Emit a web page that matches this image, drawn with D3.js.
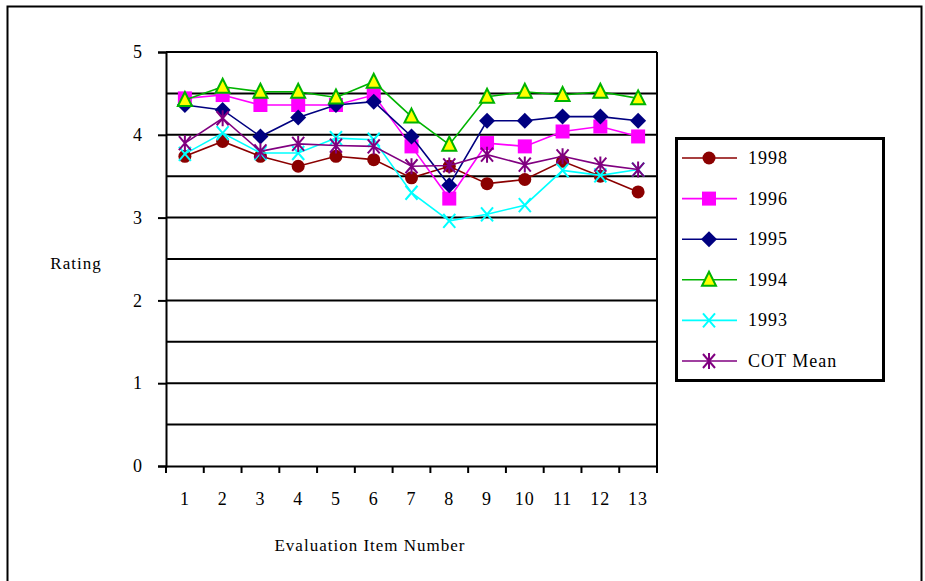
<!DOCTYPE html>
<html><head><meta charset="utf-8">
<script src="https://cdn.jsdelivr.net/npm/d3@7"></script>
<style>body{margin:0;background:#fff}svg{display:block}text{font-family:"Liberation Serif","DejaVu Serif",serif;fill:#000}</style>
</head><body><svg id="c" width="925" height="581"></svg>
<script>
const items = [1,2,3,4,5,6,7,8,9,10,11,12,13];
const yTicks = [0,1,2,3,4,5];
const seriesNames = ["1998","1996","1995","1994","1993","COT Mean"];
const v1998 = [3.74,3.92,3.74,3.62,3.74,3.70,3.48,3.62,3.41,3.46,3.68,3.50,3.31];
const v1996 = [4.44,4.48,4.36,4.36,4.36,4.48,3.86,3.23,3.90,3.86,4.04,4.10,3.98];
const v1995 = [4.36,4.30,3.98,4.21,4.36,4.40,3.98,3.39,4.17,4.17,4.22,4.22,4.17];
const v1994 = [4.42,4.58,4.52,4.52,4.45,4.64,4.22,3.88,4.46,4.52,4.48,4.52,4.44];
const v1993 = [3.77,4.02,3.78,3.78,3.96,3.94,3.30,2.96,3.04,3.15,3.57,3.51,3.58];
const vCOT  = [3.90,4.20,3.80,3.89,3.87,3.86,3.62,3.63,3.76,3.64,3.74,3.64,3.58];
const values = [v1998,v1996,v1995,v1994,v1993,vCOT];
const colors = ["#8b0000","#ff00ff","#000080","#00b400","#00ffff","#800080"];
const shapes = ["circle","square","diamond","triangle","x","star"];

const svg = d3.select("#c");
svg.append("rect").attr("x",7.5).attr("y",6.5).attr("width",914).attr("height",600)
  .attr("fill","none").attr("stroke","#000").attr("stroke-width",2);

const L=166, R=657, T=52, B=466;
const x = d3.scaleBand().domain(items).range([L,R]);
const y = d3.scaleLinear().domain([0,5]).range([B,T]);

// grid every 0.5
const grid = d3.range(0.5,5.01,0.5);
svg.append("g").selectAll("line").data(grid).join("line")
  .attr("x1",L).attr("x2",R).attr("y1",d=>y(d)).attr("y2",d=>y(d))
  .attr("stroke","#000").attr("stroke-width",2);
svg.append("line").attr("x1",R).attr("x2",R).attr("y1",T).attr("y2",B).attr("stroke","#000").attr("stroke-width",2);

// y axis
const ya = svg.append("g").attr("transform",`translate(${L},0)`)
  .call(d3.axisLeft(y).tickValues(yTicks).tickFormat(d3.format("d")).tickSize(8).tickPadding(16));
ya.select(".domain").attr("stroke-width",2);
ya.selectAll(".tick line").attr("stroke-width",2);
ya.selectAll("text").attr("font-size",18).style("font-family","'Liberation Serif',serif");

// x axis
const xa = svg.append("g").attr("transform",`translate(0,${B})`)
  .call(d3.axisBottom(x).tickSize(0).tickPadding(26));
xa.select(".domain").attr("stroke-width",2);
xa.selectAll("text").attr("font-size",18).attr("letter-spacing",1).style("font-family","'Liberation Serif',serif");
const bounds = items.map(d=>x(d)).concat([R]);
svg.append("g").selectAll("line").data(bounds).join("line")
  .attr("x1",d=>d).attr("x2",d=>d).attr("y1",B).attr("y2",B+7)
  .attr("stroke","#000").attr("stroke-width",2);

svg.append("text").attr("x",76).attr("y",269).attr("text-anchor","middle").attr("font-size",17).attr("letter-spacing",1).text("Rating");
svg.append("text").attr("x",370).attr("y",551).attr("text-anchor","middle").attr("font-size",17).attr("letter-spacing",1).text("Evaluation Item Number");

function marker(g, shape, color, cx, cy){
  if(shape==="circle"){
    g.append("circle").attr("cx",cx).attr("cy",cy).attr("r",6.5).attr("fill",color);
  } else if(shape==="square"){
    g.append("rect").attr("x",cx-7).attr("y",cy-7).attr("width",14).attr("height",14).attr("fill",color);
  } else if(shape==="diamond"){
    g.append("path").attr("d",`M${cx},${cy-8}L${cx+8},${cy}L${cx},${cy+8}L${cx-8},${cy}Z`).attr("fill",color);
  } else if(shape==="triangle"){
    g.append("path").attr("d",`M${cx},${cy-8}L${cx+7},${cy+6}L${cx-7},${cy+6}Z`).attr("fill","#ffff00").attr("stroke",color).attr("stroke-width",2);
  } else if(shape==="x"){
    g.append("path").attr("d",`M${cx-6},${cy-7}L${cx+6},${cy+7}M${cx+6},${cy-7}L${cx-6},${cy+7}`).attr("stroke",color).attr("stroke-width",2);
  } else {
    g.append("path").attr("d",`M${cx-6},${cy-7}L${cx+6},${cy+7}M${cx+6},${cy-7}L${cx-6},${cy+7}M${cx},${cy-8}L${cx},${cy+8}`).attr("stroke",color).attr("stroke-width",2);
  }
}

const line = d3.line().x((d,i)=>x(items[i])+x.bandwidth()/2).y(d=>y(d));
values.forEach((vals,si)=>{
  const g = svg.append("g");
  g.append("path").attr("d",line(vals)).attr("fill","none").attr("stroke",colors[si]).attr("stroke-width",1.6);
  vals.forEach((v,i)=>marker(g,shapes[si],colors[si],x(items[i])+x.bandwidth()/2,y(v)));
});

// legend
svg.append("rect").attr("x",676.5).attr("y",138.5).attr("width",207).attr("height",242)
  .attr("fill","#fff").attr("stroke","#000").attr("stroke-width",3);
seriesNames.forEach((n,i)=>{
  const ly = 158 + i*40.6;
  const g = svg.append("g");
  g.append("line").attr("x1",682).attr("x2",737).attr("y1",ly).attr("y2",ly).attr("stroke",colors[i]).attr("stroke-width",1.6);
  marker(g,shapes[i],colors[i],709,ly);
  g.append("text").attr("x",748).attr("y",ly+6).attr("font-size",18).attr("letter-spacing",1).text(n);
});
</script></body></html>
